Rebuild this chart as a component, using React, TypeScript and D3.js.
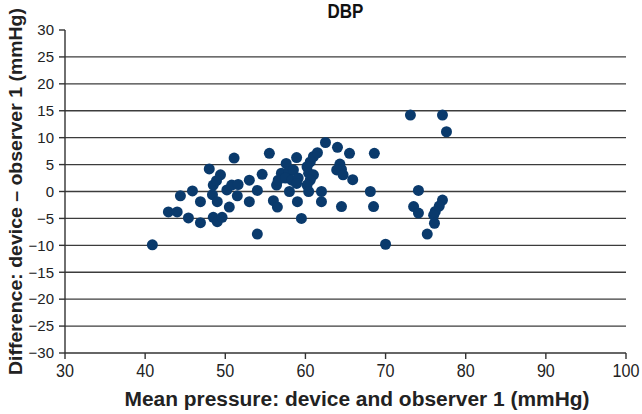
import React from "react";
import * as d3 from "d3";

const meanPressure: number[] = [
  40.9, 42.9, 44.0, 44.4, 45.4, 45.9, 46.9, 46.9, 48.0, 48.5, 48.4, 48.5, 49.0, 49.6, 49.0, 49.4, 48.9,
  50.2, 50.5, 50.8, 51.1, 51.5, 51.6, 53.0, 53.0, 54.0, 54.0, 54.6, 55.5, 56.4, 56.0, 56.5,
  57.6, 57.0, 57.9, 58.5, 56.6, 57.5, 58.3, 59.1, 58.9, 58.9, 60.6, 61.0, 61.5, 60.2, 60.4, 61.0,
  60.6, 60.2, 58.0, 60.4, 62.0, 59.0, 62.0, 59.5, 62.5, 64.0, 65.5, 64.3, 64.5, 63.9, 64.7, 65.9,
  64.5, 68.6, 68.1, 68.5, 70.0,
  73.1, 77.1, 77.6, 74.1, 73.5, 74.1, 77.1, 76.7, 76.2, 76.0, 76.1, 75.2,
];
const difference: number[] = [
  -9.9, -3.8, -3.8, -0.8, -4.9, 0.1, -1.9, -5.8, 4.2, 1.2, -0.6, -4.8, -5.6, -4.8, -1.9, 3.1, 2.0,
  0.3, -2.9, 1.2, 6.2, -0.8, 1.3, 2.1, -1.9, -7.9, 0.2, 3.2, 7.1, 1.2, -1.7, -2.9,
  5.2, 3.4, 3.7, 4.0, 2.1, 2.5, 2.1, 2.5, 1.5, 6.3, 5.5, 6.5, 7.2, 4.6, 3.4, 3.1,
  2.1, 1.2, 0, 0, 0, -1.9, -1.9, -5.0, 9.1, 8.2, 7.1, 5.1, 4.1, 4.0, 3.1, 2.2,
  -2.8, 7.1, 0, -2.8, -9.8,
  14.2, 14.2, 11.1, 0.2, -2.8, -4.0, -1.6, -2.7, -3.7, -4.4, -5.9, -7.9,
];
const xTicks: number[] = [30, 40, 50, 60, 70, 80, 90, 100];
const yTicks: number[] = [30, 25, 20, 15, 10, 5, 0, -5, -10, -15, -20, -25, -30];
const gridValues: number[] = [25, 20, 15, 10, 5, 0, -5, -10, -15, -20, -25];

const title = "DBP";
const xLabel = "Mean pressure: device and observer 1 (mmHg)";
const yLabel = "Difference: device \u2013 observer 1 (mmHg)";

export default function App() {
  const W = 642, H = 414;
  const left = 65, right = 626, top = 30, bottom = 353;
  const x = d3.scaleLinear().domain([30, 100]).range([left, right]);
  const y = d3.scaleLinear().domain([-30, 30]).range([bottom, top]);
  const font = "'Liberation Sans', Arial, sans-serif";
  const fmt = (v: number) => (v < 0 ? "\u2212" + Math.abs(v) : String(v));
  const pts = meanPressure.map((m, i) => ({ m, d: difference[i] }));
  return (
    <svg width={W} height={H} style={{ position: "absolute", left: 0, top: 0, background: "#fff" }}>
      <text transform={`translate(${(left + right) / 2},18) scale(0.85,1)`} textAnchor="middle" fontFamily={font} fontWeight="bold" fontSize={20} fill="#111">{title}</text>
      {gridValues.map((g) => (
        <line key={"g" + g} x1={left} x2={right} y1={y(g)} y2={y(g)} stroke="#3c3c3c" strokeWidth={1.4} />
      ))}
      <line x1={left} x2={left} y1={top} y2={bottom} stroke="#333" strokeWidth={1.4} />
      <line x1={left} x2={right} y1={bottom} y2={bottom} stroke="#333" strokeWidth={1.4} />
      {yTicks.map((t) => (
        <g key={"y" + t}>
          <line x1={left - 6} x2={left} y1={y(t)} y2={y(t)} stroke="#333" strokeWidth={1.4} />
          <text x={left - 11} y={y(t)} dy="0.35em" textAnchor="end" fontFamily={font} fontSize={15} fill="#222">{fmt(t)}</text>
        </g>
      ))}
      {xTicks.map((t) => (
        <g key={"x" + t}>
          <line x1={x(t)} x2={x(t)} y1={bottom} y2={bottom + 6} stroke="#333" strokeWidth={1.4} />
          <text transform={`translate(${x(t)},377) scale(0.85,1)`} textAnchor="middle" fontFamily={font} fontSize={19} fill="#222">{fmt(t)}</text>
        </g>
      ))}
      {pts.map((p, i) => (
        <circle key={i} cx={x(p.m)} cy={y(p.d)} r={5.5} fill="#0a3a6c" />
      ))}
      <text x={357} y={406} textAnchor="middle" fontFamily={font} fontWeight="bold" fontSize={20} textLength={465} lengthAdjust="spacingAndGlyphs" fill="#222">{xLabel}</text>
      <text transform={`translate(22,191.5) rotate(-90)`} textAnchor="middle" fontFamily={font} fontWeight="bold" fontSize={19} textLength={367} lengthAdjust="spacingAndGlyphs" fill="#222">{yLabel}</text>
    </svg>
  );
}
